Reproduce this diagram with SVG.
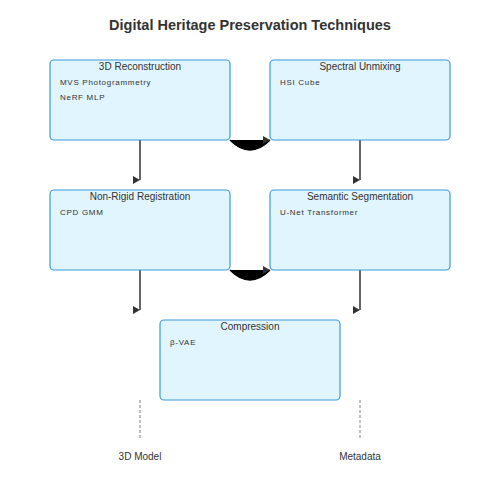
<svg xmlns="http://www.w3.org/2000/svg" width="500" height="500" viewBox="0 0 500 500">
<style>
.box{fill:#e1f5fe;stroke:#3a9ad9;stroke-width:1.2}
.t{font-family:"Liberation Sans",Arial,sans-serif;font-size:10px;fill:#333;text-anchor:middle}
.s{font-family:"Liberation Sans",Arial,sans-serif;font-size:8px;letter-spacing:0.7px;fill:#333}
.c{stroke:#333;stroke-width:1.5;fill:none}
.cv{stroke:#000;stroke-width:1.5;fill:#000}
.d{stroke:#aaa;stroke-width:1.5;stroke-dasharray:3,2;fill:none}
.lbl{font-family:"Liberation Sans",Arial,sans-serif;font-size:10px;fill:#333;text-anchor:middle}
</style>
<defs>
<marker id="ah" markerWidth="8" markerHeight="8" refX="7" refY="4" orient="0" markerUnits="userSpaceOnUse">
<path d="M0,0 L7,4 L0,8 Z" fill="#333"/>
</marker>
</defs>
<rect width="500" height="500" fill="#fff"/>
<text x="250" y="30" text-anchor="middle" font-family="'Liberation Sans',Arial,sans-serif" font-size="14.5" font-weight="bold" fill="#333">Digital Heritage Preservation Techniques</text>
<g id="connectors">
<path class="c" d="M140,140 L140,180" marker-end="url(#ah)"/>
<path class="c" d="M360,140 L360,180" marker-end="url(#ah)"/>
<path class="c" d="M140,270 L140,310" marker-end="url(#ah)"/>
<path class="c" d="M360,270 L360,310" marker-end="url(#ah)"/>
<path class="cv" d="M230,140 Q250,160 270,140" marker-end="url(#ah)"/>
<path class="cv" d="M230,270 Q250,290 270,270" marker-end="url(#ah)"/>
<path class="d" d="M140,400 L140,440"/>
<path class="d" d="M360,400 L360,440"/>
</g>
<g id="n1">
<rect class="box" x="50" y="60" width="180" height="80" rx="4"/>
<text class="t" x="140" y="70">3D Reconstruction</text>
<text class="s" x="60" y="85">MVS Photogrammetry</text>
<text class="s" x="60" y="100">NeRF MLP</text>
</g>
<g id="n2">
<rect class="box" x="270" y="60" width="180" height="80" rx="4"/>
<text class="t" x="360" y="70">Spectral Unmixing</text>
<text class="s" x="280" y="85">HSI Cube</text>
</g>
<g id="n3">
<rect class="box" x="50" y="190" width="180" height="80" rx="4"/>
<text class="t" x="140" y="200">Non-Rigid Registration</text>
<text class="s" x="60" y="215">CPD GMM</text>
</g>
<g id="n4">
<rect class="box" x="270" y="190" width="180" height="80" rx="4"/>
<text class="t" x="360" y="200">Semantic Segmentation</text>
<text class="s" x="280" y="215">U-Net Transformer</text>
</g>
<g id="n5">
<rect class="box" x="160" y="320" width="180" height="80" rx="4"/>
<text class="t" x="250" y="330">Compression</text>
<text class="s" x="170" y="345">β-VAE</text>
</g>
<g id="outputs">
<text class="lbl" x="140" y="460">3D Model</text>
<text class="lbl" x="360" y="460">Metadata</text>
</g>
</svg>
